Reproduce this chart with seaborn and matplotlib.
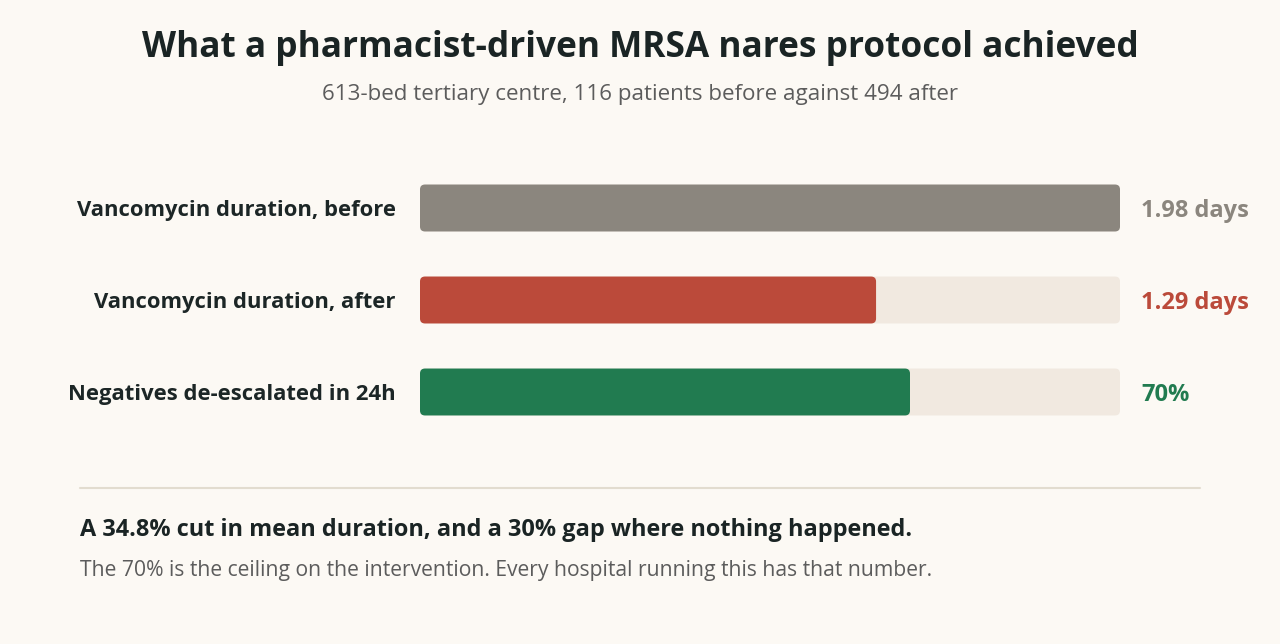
import matplotlib
matplotlib.use("Agg")
import matplotlib.pyplot as plt
from matplotlib.patches import FancyBboxPatch
import seaborn as sns
import pandas as pd

# ---- data ----
categories = ["Vancomycin duration, before", "Vancomycin duration, after", "Negatives de-escalated in 24h"]
values = [1.98, 1.29, 70]
scale_max = [1.98, 1.98, 100]
value_labels = ["1.98 days", "1.29 days", "70%"]
bar_colors = ["#8b867e", "#bb4a3a", "#217b50"]
track_color = "#f1e9e0"
bg = "#fcf9f4"

fractions = [v / m for v, m in zip(values, scale_max)]
df = pd.DataFrame({"category": categories, "fraction": fractions, "track": [1.0] * len(categories)})

sns.set_theme(style="white")
FONT = ["Open Sans", "DejaVu Sans"]
plt.rcParams["font.family"] = FONT

W, H = 1280, 644
fig = plt.figure(figsize=(12.8, 6.44), dpi=100, facecolor=bg)

top_px, bot_px = 162, 438
ax = fig.add_axes([420 / W, (H - bot_px) / H, 700 / W, (bot_px - top_px) / H])
ax.set_facecolor(bg)

sns.barplot(data=df, x="track", y="category", orient="h", color=track_color, width=0.51,
            saturation=1, ax=ax)
sns.barplot(data=df, x="fraction", y="category", orient="h", palette=bar_colors, hue="category",
            legend=False, width=0.51, saturation=1, ax=ax)

ax.set_xlim(0, 1)
ax.set_ylim(2.5, -0.5)

aspect = (700 / 1.0) / ((bot_px - top_px) / 3.0)
r = 5 / 700
patches = list(ax.patches)
for p in patches:
    x, y = p.get_x(), p.get_y()
    w, h = p.get_width(), p.get_height()
    fc = p.get_facecolor()
    p.remove()
    fb = FancyBboxPatch((x, y), w, h, boxstyle=f"round,pad=0,rounding_size={r}",
                        mutation_aspect=aspect, facecolor=fc, edgecolor="none", linewidth=0)
    ax.add_patch(fb)

for s in ax.spines.values():
    s.set_visible(False)
ax.set_xticks([])
ax.set_yticks([])
ax.set_xlabel("")
ax.set_ylabel("")

for i, (cat, lab, col) in enumerate(zip(categories, value_labels, bar_colors)):
    ax.text(-24 / 700, i, cat, ha="right", va="center_baseline", fontsize=15.8, fontweight="bold",
            color="#1c2626")
    ax.text(1 + 21 / 700, i, lab, ha="left", va="center_baseline", fontsize=17, fontweight="bold",
            color=col)

fig.text(0.5, 1 - 43 / H, "What a pharmacist-driven MRSA nares protocol achieved",
         ha="center", va="center_baseline", fontsize=25.4, fontweight="bold", color="#1a2424")
fig.text(0.5, 1 - 92 / H, "613-bed tertiary centre, 116 patients before against 494 after",
         ha="center", va="center_baseline", fontsize=16.1, color="#5c5c5c")

fig.add_artist(plt.Line2D([80 / W, 1200 / W], [1 - 488 / H, 1 - 488 / H],
                          color="#e2dccf", linewidth=1.5))

fig.text(80 / W, 1 - 527 / H, "A 34.8% cut in mean duration, and a 30% gap where nothing happened.",
         ha="left", va="center_baseline", fontsize=16.9, fontweight="bold", color="#1a2424")
fig.text(80 / W, 1 - 568 / H, "The 70% is the ceiling on the intervention. Every hospital running this has that number.",
         ha="left", va="center_baseline", fontsize=15.2, color="#5c5c5c")

fig.savefig("out.png", dpi=100, facecolor=bg)
